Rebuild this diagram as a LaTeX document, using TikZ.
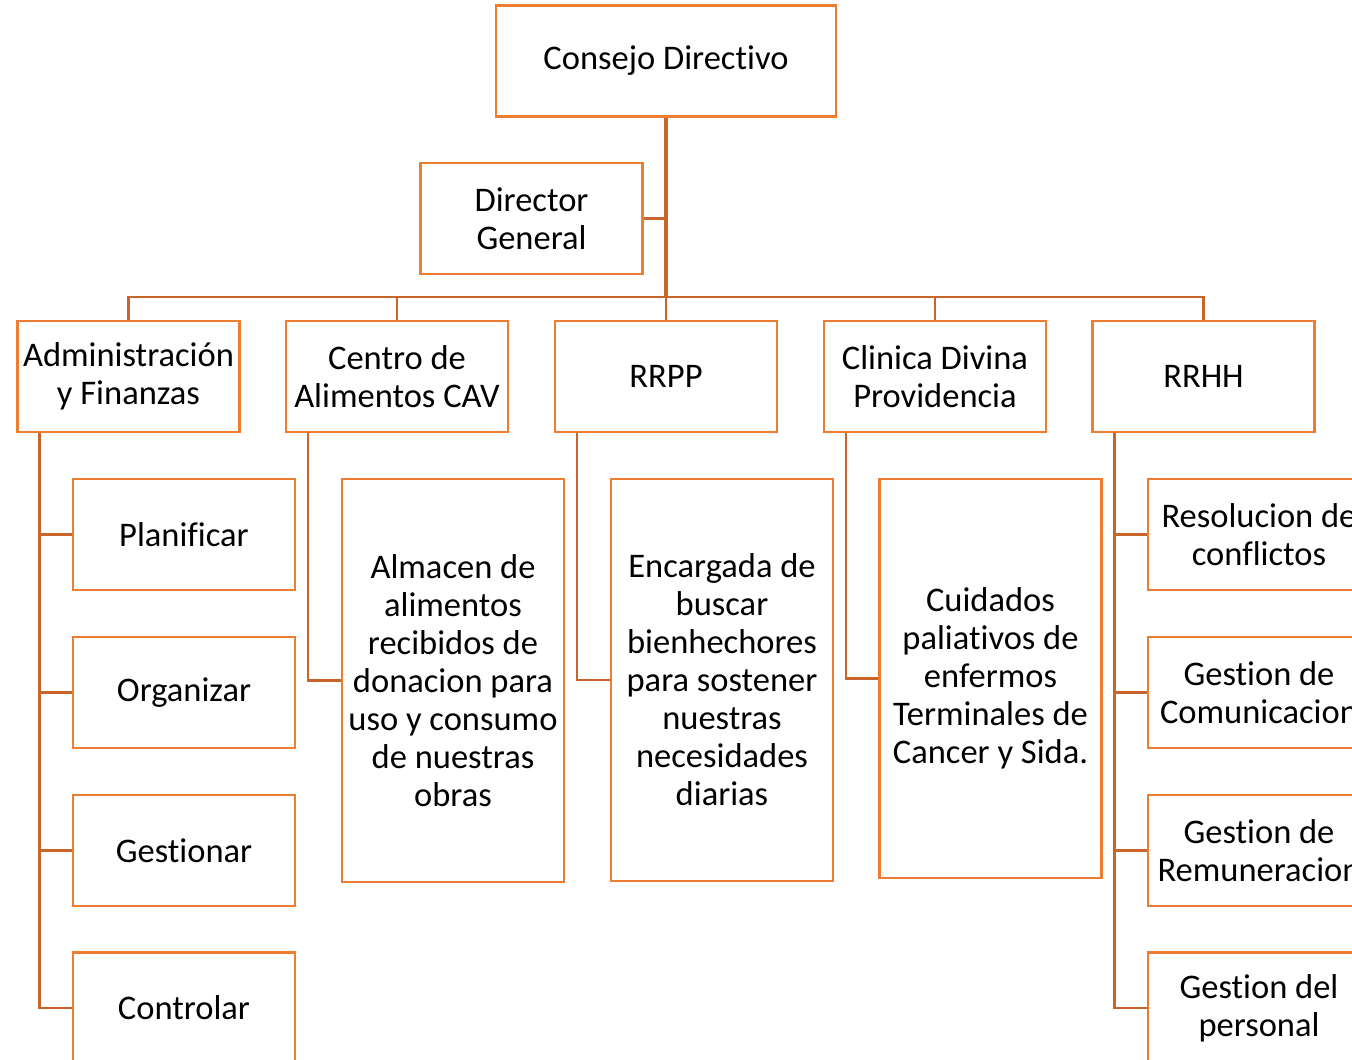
\documentclass[tikz,border=0pt]{standalone}
\usepackage{fontspec}
\setmainfont{Carlito}[Ligatures=NoCommon]
\usetikzlibrary{calc}
\definecolor{boxc}{HTML}{ED7D31}
\definecolor{linec}{HTML}{C8652A}
\tikzset{
  orgbox/.style={draw=boxc, line width=2.4pt, minimum width=222pt, minimum height=111pt, inner sep=1pt, align=center, font=\fontsize{34.5}{38}\selectfont},
  tallbox/.style={orgbox, minimum height=403pt},
  conn/.style={draw=linec, line width=2.6pt},
  trunk/.style={draw=linec, line width=3.6pt}
}
\begin{document}
\begin{tikzpicture}[x=1pt,y=-1pt]
\useasboundingbox (0,0) rectangle (1352,1060);
\clip (0,0) rectangle (1352,1060);
\node[orgbox, minimum width=340pt] (cd) at (666,61) {Consejo Directivo};
\node[orgbox] (dg) at (531.5,218.5) {Director\\General};
\node[orgbox] (adm) at (128.5,376.5) {Administración\\y Finanzas};
\node[orgbox] (cen) at (397,376.5) {Centro de\\Alimentos CAV};
\node[orgbox] (rrpp) at (666,376.5) {RRPP};
\node[orgbox] (cli) at (935,376.5) {Clinica Divina\\Providencia};
\node[orgbox] (rrhh) at (1203.5,376.5) {RRHH};
% Admin children
\node[orgbox] (pla) at (184,534.5) {Planificar};
\node[orgbox] (org) at (184,692.5) {Organizar};
\node[orgbox] (ges) at (184,850.5) {Gestionar};
\node[orgbox] (con) at (184,1008) {Controlar};
% tall boxes
\node[tallbox] (alm) at (453,680.5) {Almacen de\\alimentos\\recibidos de\\donacion para\\uso y consumo\\de nuestras\\obras};
\node[tallbox, minimum height=402pt] (enc) at (722,680) {Encargada de\\buscar\\bienhechores\\para sostener\\nuestras\\necesidades\\diarias};
\node[tallbox, minimum height=399pt] (cui) at (990.5,678.5) {Cuidados\\paliativos de\\enfermos\\Terminales de\\Cancer y Sida.};
% RRHH children
\node[orgbox] (res) at (1259,534.5) {Resolucion de\\conflictos};
\node[orgbox] (com) at (1259,692.5) {Gestion de\\Comunicacion};
\node[orgbox] (rem) at (1259,850.5) {Gestion de\\Remuneracion};
\node[orgbox] (per) at (1259,1008) {Gestion del\\personal};
% connectors
\coordinate (bus) at (666,297);
\draw[trunk] (cd.south) -- (bus);
\draw[conn] (bus) -- (rrpp.north);
\draw[conn] (dg.east) -- (dg.east -| cd.south);
\draw[conn] (adm.north) |- (bus) -| (rrhh.north);
\draw[conn] (cen.north) -- (cen.north |- bus);
\draw[conn] (cli.north) -- (cli.north |- bus);
\coordinate (a1) at ($(adm.south west)+(23,0)$);
\draw[conn] (a1) |- (con.west);
\draw[conn] (pla.west) -- (pla.west -| a1);
\draw[conn] (org.west) -- (org.west -| a1);
\draw[conn] (ges.west) -- (ges.west -| a1);
\coordinate (c1) at ($(cen.south west)+(23,0)$);
\draw[conn] (c1) |- (alm.west);
\coordinate (r1) at ($(rrpp.south west)+(23,0)$);
\draw[conn] (r1) |- (enc.west);
\coordinate (k1) at ($(cli.south west)+(23,0)$);
\draw[conn] (k1) |- (cui.west);
\coordinate (h1) at ($(rrhh.south west)+(23,0)$);
\draw[conn] (h1) |- (per.west);
\draw[conn] (res.west) -- (res.west -| h1);
\draw[conn] (com.west) -- (com.west -| h1);
\draw[conn] (rem.west) -- (rem.west -| h1);
\end{tikzpicture}
\end{document}
